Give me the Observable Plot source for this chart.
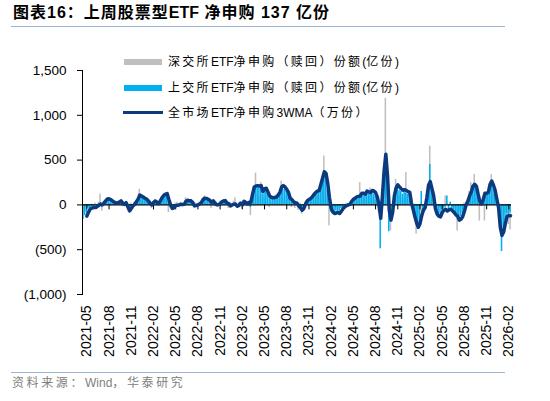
<!DOCTYPE html>
<html><head><meta charset="utf-8">
<script src="https://cdn.jsdelivr.net/npm/d3@7"></script>
<script src="https://cdn.jsdelivr.net/npm/@observablehq/plot@0.6"></script>
<style>
body{margin:0;background:#fff;}
#wrap{position:relative;width:550px;height:401px;overflow:hidden;background:#fff;font-family:"Liberation Sans","Noto Sans CJK SC",sans-serif;}
#title{position:absolute;left:13px;top:2px;font-size:16px;line-height:22px;font-weight:bold;letter-spacing:1px;color:#000;white-space:nowrap;}
.hr{position:absolute;left:11px;width:494px;height:0;border-top:1.5px solid #9cb6d6;}
#chart{position:absolute;left:0;top:32px;}
.sw{position:absolute;}
.lt{position:absolute;font-size:12px;line-height:16px;letter-spacing:2.3px;color:#000;white-space:nowrap;}
.la{letter-spacing:0;}
#src{position:absolute;left:12px;top:375px;font-size:12px;line-height:16px;letter-spacing:2.6px;color:#808080;white-space:nowrap;}
</style></head>
<body>
<div id="wrap">
  <div id="title">图表16：上周股票型<span style="letter-spacing:0">ETF</span> 净申购 137 亿份</div>
  <div class="hr" style="top:26px"></div>
  <div id="chart"></div>
  <div class="sw" style="left:124px;top:59px;width:38px;height:6px;background:#BFBFBF"></div>
  <div class="lt" style="left:168px;top:54px">深交所<span class="la">ETF</span>净申购（赎回）份额<span class="la">(</span>亿份<span class="la">)</span></div>
  <div class="sw" style="left:124px;top:85px;width:38px;height:6px;background:#00B0F0"></div>
  <div class="lt" style="left:168px;top:80px">上交所<span class="la">ETF</span>净申购（赎回）份额<span class="la">(</span>亿份<span class="la">)</span></div>
  <div class="sw" style="left:123px;top:111px;width:40px;height:3px;background:#0B3A7E"></div>
  <div class="lt" style="left:168px;top:105px">全市场<span class="la">ETF</span>净申购<span class="la">3WMA</span>（万份）</div>
  <div class="hr" style="top:372px"></div>
  <div id="src">资料来源：<span class="la">Wind</span>，华泰研究</div>
</div>
<script>
const xTickLabels = ["2021-05","2021-08","2021-11","2022-02","2022-05","2022-08","2022-11","2023-02","2023-05","2023-08","2023-11","2024-02","2024-05","2024-08","2024-11","2025-02","2025-05","2025-08","2025-11","2026-02"];
const yTicks = [-1000, -500, 0, 500, 1000, 1500];

// 深交所ETF净申购（赎回）份额(亿份), weekly
const szFlow = [
-100,-60,-40,-20,-30,10,-10,20,-40,30,
120,-70,10,40,20,60,30,10,50,
20,40,10,50,-20,30,10,-50,-20,20,
-30,30,20,60,175,50,80,30,60,
20,40,-40,20,60,10,40,20,60,50,
80,40,-85,-30,-20,-60,20,30,-20,
30,-10,20,80,30,20,60,10,-30,20,
-10,30,10,40,100,30,60,20,-40,30,
-20,20,-30,40,30,60,20,50,-40,
30,-20,40,80,-30,20,30,-50,40,10,
30,-20,-120,60,150,355,120,90,250,
60,80,200,40,-30,30,20,60,110,40,
90,265,60,100,50,70,40,-30,20,
-40,30,-60,20,-105,-30,30,20,70,30,
40,60,50,150,80,100,150,545,120,
90,-233,-40,-60,-30,-80,-20,-60,-20,10,
-30,20,-20,30,20,40,30,60,50,248,
60,80,60,90,50,190,70,90,50,
40,-80,-100,60,150,1190,200,-120,-290,-40,
60,285,80,100,60,40,70,360,60,40,
30,-40,-80,-326,-120,-60,-80,-40,-20,30,
100,655,120,30,-20,-60,-20,-40,-130,-30,
100,40,-80,20,-50,-40,-20,-290,-80,-60,
-30,20,30,60,150,248,100,341,80,40,
-180,20,60,-180,80,150,40,340,120,100,
50,-30,-120,-200,-150,-100,-211,-220,-280
];

// 上交所ETF净申购（赎回）份额(亿份), weekly
const shFlow = [
-160,-120,-90,-40,-50,-20,-40,-10,-30,10,
20,5,30,50,70,55,40,35,20,
30,15,40,25,10,-5,30,-40,-60,-20,
0,20,40,70,80,90,70,60,50,
30,10,-10,35,40,20,10,50,90,110,
100,115,40,-20,-50,-25,-15,-10,10,
5,15,0,40,45,30,50,15,-20,-5,
10,5,30,55,60,70,50,40,20,40,
10,-10,10,5,40,35,40,15,10,
-20,5,-5,20,-25,0,15,-10,30,20,
5,25,-30,110,180,200,190,210,170,
120,160,150,120,80,70,60,75,70,90,
120,190,170,180,150,120,60,40,30,
10,20,-20,-30,-50,-20,20,50,55,60,
80,100,130,120,150,190,260,300,280,
170,40,-80,-70,-90,-60,-80,-70,-40,-30,
-10,-20,10,5,30,55,60,80,70,90,
110,100,110,130,120,110,140,120,100,
70,-30,-490,80,300,470,250,-300,-150,-60,
90,170,200,160,150,120,140,130,120,110,
10,-60,-120,-190,-220,-160,150,-50,-30,70,
180,450,150,60,-40,-80,-110,-100,-60,-40,
-30,100,-50,30,-60,-70,-100,-110,-150,-130,
-100,-50,10,40,80,120,180,200,170,90,
30,20,60,100,110,120,190,220,180,120,
40,-40,-200,-520,-260,-180,-100,-110,-90
];

// 全市场ETF净申购3WMA（万份）, weekly (first two weeks have no 3-week average)
const ma3w = [
null,null,-125,-80,-45,-35,-30,-30,-20,-5,
10,0,20,45,65,68,60,44,30,
25,22,30,44,20,5,25,-20,-67,-40,
-10,5,35,65,110,100,88,75,65,
44,20,0,25,44,30,15,45,80,105,
120,126,60,0,-40,-30,-10,-3,0,
7,5,7,40,52,45,45,26,-11,-8,
0,10,26,60,74,72,63,50,30,45,
20,2,5,10,35,44,48,22,15,
-11,0,7,10,-15,-5,20,0,40,30,
10,30,30,120,200,211,215,212,215,
150,180,185,145,100,85,80,82,88,110,
140,200,215,200,174,140,75,60,35,
26,20,-11,-30,-60,-40,10,44,60,72,
90,118,140,155,160,230,300,370,350,
240,80,-40,-80,-96,-90,-85,-96,-70,-40,
-20,-10,0,7,40,63,75,89,95,100,
130,130,120,155,145,137,160,155,137,
90,0,-150,100,380,565,320,-60,-170,-80,
100,190,225,200,180,163,170,160,150,140,
20,-50,-130,-200,-250,-210,-120,-60,-30,80,
220,260,180,100,-40,-100,-125,-133,-85,-60,
-48,-67,-55,-48,-65,-85,-110,-125,-170,-160,
-130,-70,0,40,100,145,210,230,210,120,
40,10,60,130,130,140,230,265,220,160,
60,-30,-250,-340,-300,-200,-125,-120,-120
];

const labelStart = 2, labelEvery = 13;
const idx = d3.range(ma3w.length);
const data = idx.map(i => ({i, sz: szFlow[i], sh: shFlow[i], ma: ma3w[i]}));
const xTickIdx = xTickLabels.map((_, k) => labelStart + k * labelEvery);
const fmtN = d3.format(",");
const fmtY = d => d < 0 ? `(${fmtN(-d)})` : fmtN(d);

const chart = Plot.plot({
  width: 550, height: 341,
  marginLeft: 82, marginRight: 39, marginTop: 38, marginBottom: 79,
  style: {background: "transparent", fontFamily: "Liberation Sans, Arial, sans-serif", color: "#000"},
  x: {type: "band", domain: idx, padding: 0.1},
  y: {domain: [-1000, 1500]},
  marks: [
    Plot.barY(data, {x: "i", y: "sz", fill: "#BFBFBF"}),
    Plot.barY(data, {x: "i", y: "sh", fill: "#00B0F0"}),
    Plot.ruleY([0], {stroke: "#000", strokeWidth: 1.3}),
    Plot.ruleX(xTickIdx, {x: d => d, y1: 0, y2: 0, insetBottom: -5, stroke: "#000"}),
    Plot.lineY(data, {x: "i", y: "ma", stroke: "#0B3A7E", strokeWidth: 3.5, strokeLinejoin: "round", strokeLinecap: "round"}),
    Plot.frame({anchor: "left", stroke: "#000"}),
    Plot.axisY({ticks: yTicks, tickFormat: fmtY, tickSize: 5, tickPadding: 11, fontSize: 13.5, label: null}),
    Plot.axisX({ticks: xTickIdx, tickFormat: i => xTickLabels[(i - labelStart) / labelEvery], tickRotate: -90, tickSize: 0, tickPadding: 11, fontSize: 14, label: null})
  ]
});
document.getElementById("chart").appendChild(chart);
</script>
</body></html>
